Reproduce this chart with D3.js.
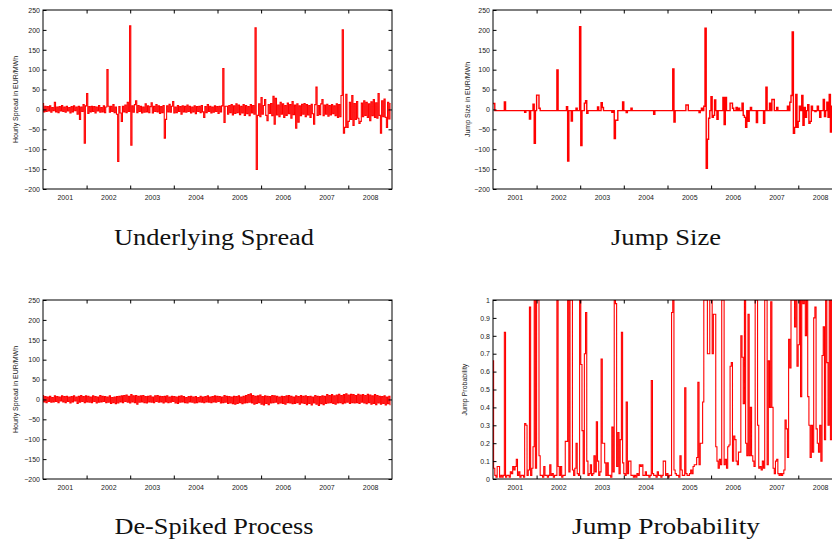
<!DOCTYPE html>
<html>
<head>
<meta charset="utf-8">
<script src="https://cdn.jsdelivr.net/npm/d3@7"></script>
<style>
body { margin: 0; background: #fff; }
.axis text { font-family: "Liberation Sans", Arial, sans-serif; font-size: 7px; fill: #222; }
.axis line { stroke: #000; }
.ylab { font-family: "Liberation Sans", Arial, sans-serif; font-size: 7px; fill: #222; }
.title { font-family: "Liberation Serif", "Times New Roman", Times, serif; font-size: 23px; fill: #111; }
</style>
</head>
<body>
<div id="chart"></div>
<script>
// sampling grid of the series (every 10 days from 1 Jan 2001)
var sampleStart = Date.UTC(2001, 0, 1),
	sampleStepDays = 10;

var yearLabels = [2001, 2002, 2003, 2004, 2005, 2006, 2007, 2008];
var yearTicks = [2002, 2003, 2004, 2005, 2006, 2007, 2008];
var spreadTicks = [-200, -150, -100, -50, 0, 50, 100, 150, 200, 250];
var probTicks = [0, 0.1, 0.2, 0.3, 0.4, 0.5, 0.6, 0.7, 0.8, 0.9, 1];

// Underlying spread, EUR/MWh
var underlyingSpread = [
	15, -6, 8, -5, 7, -4, 9, -7, 5, -3, 18, -6, 6, -8, 7, -4, 10, -5, 6, -7,
	8, -4, 5, -9, 7, -6, 9, -3, 6, -12, 8, -25, 6, -5, 12, -85, 9, 40, -10, 7,
	-6, 8, -5, 7, -9, 6, -4, 10, -7, 5, -6, 9, -8, 6, 100, 8, -7, 8, -5, 12,
	-8, 6, -12, -131, 7, -9, -30, 8, -6, 11, -8, 18, -5, 210, -90, 9, -7, 12, 22, -8,
	10, -5, 8, -9, 6, -7, 14, -6, 9, -8, 7, 17, -9, 8, -5, 12, -6, 9, -10, 7,
	-8, 10, -72, -25, 9, -6, 13, -7, 8, 20, -9, 6, -8, 10, -5, 7, -12, 9, -6, 8,
	-7, 11, -5, 8, -9, 6, -6, 9, -11, 7, -5, 8, -8, 10, -6, -20, 7, -8, 12, -5,
	8, -9, 6, -7, 9, -5, 7, -10, 8, -6, 9, 103, -33, 8, 8, -12, 10, -8, 12, -14,
	9, -10, 14, -8, 11, -13, 8, -9, 12, -15, 10, -11, 7, -16, 12, -9, 10, -12, 205, -151,
	-15, 14, -18, 30, -12, 10, 25, -15, -28, 12, -10, 15, -16, 33, -37, 28, -14, 11, -18, 18,
	-12, 14, -20, 10, -15, 16, -11, 12, -22, 20, -13, 11, -47, 14, -32, 9, -16, 13, -12, 15,
	-18, 12, -14, 10, -20, 13, -11, -37, 12, 56, -15, 10, -13, 14, 25, -16, 11, -12, 13, -17,
	10, -14, 12, -11, 9, -16, 14, -20, 12, -18, 35, 200, -60, -45, 38, -45, -30, 18, -25, 35,
	-40, 15, -25, 20, -22, -35, -30, 16, -18, 22, -15, 18, -20, 14, -28, 19, -16, 25, -20, 17,
	-22, 40, -15, -60, 22, -18, 26, -20, -45, 18, -24, 15
];

// Jump size, EUR/MWh
var jumpSize = [
	15, 15, -3, -3, -3, -3, -3, -3, -3, -3, 19, -3, -3, -3, -3, -3, -3, -3, -3, -3,
	-3, -3, -3, -3, -3, -3, -3, -7, -3, -3, -3, -24, -3, -3, 13, -85, -3, 36, 36, 3,
	-3, -3, -3, -3, -3, -3, -3, -3, -3, -3, -3, -3, -3, -3, 99, -3, -3, -3, -3, -3,
	-3, -3, 7, -130, -3, -3, -29, -3, -3, -3, 3, -3, -3, 208, -91, -3, -3, 16, 22, -10,
	-3, -3, -3, -3, -3, -3, -3, -3, 6, -3, -3, 17, 5, -3, -3, -3, -3, -3, -3, -3,
	-7, -3, -73, -27, -27, -3, -3, -3, -3, 19, -3, -3, -8, -3, -3, -3, 3, -3, -3, -3,
	-3, -3, -3, -3, -3, -3, -3, -3, -3, -3, -3, -3, -3, -3, -3, -12, -3, -3, -3, -3,
	-3, -3, -3, -3, -3, -3, -3, -3, -3, -3, -3, 102, -32, -3, -3, -3, -3, -3, -3, -3,
	-3, -3, 11, 11, -3, -3, -3, -3, -3, -3, -3, -3, -3, -8, -3, 3, -3, 8, 204, -148,
	-75, -22, -3, 32, -20, -15, 24, -3, -25, -3, -3, -3, -3, 30, -38, 30, -3, -3, -3, 16,
	16, 3, -3, -3, 5, -3, 3, -3, -3, 16, -15, -20, -45, -3, -30, -3, 5, -3, -3, -3,
	-3, -33, -3, -3, -3, -3, -3, -35, -3, 56, -3, -3, 16, -3, 25, 25, -3, -3, 5, -3,
	-3, -3, -3, -3, -3, -3, -3, 8, -3, 18, 35, 195, -60, -45, 38, -45, -30, 8, -3, 35,
	-40, 5, -20, -3, 12, -35, -30, 8, -3, -3, -5, -3, 8, -3, -20, -3, -3, 25, -18, -3,
	18, -20, 38, -57, 8, -20, 15, -10, -45, 10, -15, 5
];

// De-spiked process, EUR/MWh
var deSpiked = [
	10, -6, 7, -8, 6, -5, 8, -7, 5, -6, 9, -5, 7, -8, 6, -4, 9, -6, 7, -8,
	8, -5, 6, -9, 7, -6, 9, -4, 6, -10, 8, -7, 10, -5, 7, -8, 9, -6, 8, -7,
	6, -8, 9, -5, 7, -9, 6, -7, 10, -6, 8, -5, 7, -8, 6, -7, 9, -10, 5, -8,
	6, -11, 7, -9, 8, -6, 9, -8, 10, -5, 11, -7, 8, -9, 12, -6, 9, -8, 10, -12,
	8, -7, 9, -6, 10, -8, 7, -9, 8, -6, 9, -7, 6, -8, 9, -5, 10, -7, 8, -6,
	7, -9, 8, -6, 9, -8, 6, -7, 8, -5, 7, -9, 6, -10, 8, -7, 9, -6, 7, -8,
	5, -9, 7, -6, 8, -7, 6, -9, 7, -8, 5, -6, 8, -7, 6, -8, 7, -6, 9, -7,
	6, -8, 7, -6, 9, -7, 8, -5, 7, -9, 6, -8, 10, -7, 8, -10, 7, -9, 6, -11,
	8, -12, 7, -10, 9, -8, 6, -11, 8, -9, 10, -8, 12, -7, 14, -9, 10, -12, 8, -10,
	9, -8, 11, -12, 7, -14, 9, -10, 8, -13, 7, -9, 10, -8, 9, -7, 8, -11, 6, -9,
	8, -10, 7, -12, 9, -8, 10, -9, 8, -11, 6, -10, 9, -8, 7, -12, 10, -9, 8, -10,
	9, -13, 7, -10, 8, -14, 6, -9, 10, -12, 8, -15, 7, -11, 9, -13, 8, -10, 12, -9,
	10, -8, 12, -10, 9, -12, 11, -9, 13, -8, 10, -11, 12, -9, 14, -7, 11, -10, 13, -8,
	12, -9, 10, -8, 13, -10, 11, -7, 12, -9, 10, -11, 13, -8, 11, -12, 9, -10, 12, -13,
	10, -9, 8, -12, 7, -10, 9, -14, 6, -11, 8, -13
];

// Jump probability
var jumpProb = [
	0.66, 0.06, 0.02, 0.01, 0.07, 0.07, 0.01, 0.02, 0.01, 0.02, 0.82, 0.01, 0.02, 0.02, 0.01, 0.04, 0.03, 0.07, 0.05, 0.07,
	0.11, 0.02, 0.04, 0.01, 0.02, 0.02, 0.01, 0.31, 0.30, 0.02, 0.05, 0.96, 0.02, 0.06, 0.18, 1.0, 0.06, 1.0, 1.0, 0.13,
	0.02, 0.02, 0.01, 0.07, 0.02, 0.02, 0.01, 0.02, 0.08, 0.02, 0.03, 0.01, 0.02, 0.02, 1.0, 0.07, 0.02, 0.07, 0.01, 0.02,
	0.02, 0.21, 0.21, 1.0, 0.04, 1.0, 1.0, 0.05, 0.02, 0.06, 0.20, 0.03, 0.02, 1.0, 0.64, 0.27, 0.03, 0.70, 0.93, 0.10,
	0.02, 0.03, 0.08, 0.02, 0.03, 0.13, 0.04, 0.32, 0.10, 0.02, 0.04, 0.67, 0.20, 0.20, 0.09, 0.02, 0.09, 0.02, 0.02, 0.01,
	0.29, 0.04, 1.0, 0.98, 0.07, 0.26, 0.03, 0.22, 0.82, 0.09, 0.03, 0.02, 0.43, 0.03, 0.10, 0.10, 0.02, 0.02, 0.01, 0.02,
	0.01, 0.03, 0.02, 0.08, 0.07, 0.08, 0.02, 0.02, 0.04, 0.02, 0.02, 0.01, 0.02, 0.55, 0.03, 0.02, 0.02, 0.01, 0.04, 0.02,
	0.02, 0.01, 0.02, 0.10, 0.10, 0.02, 0.03, 0.01, 0.02, 0.02, 0.93, 1.0, 0.05, 0.03, 0.02, 0.02, 0.01, 0.13, 0.05, 0.02,
	0.02, 0.51, 0.03, 0.02, 0.02, 0.03, 0.05, 0.03, 0.07, 0.08, 0.08, 0.12, 0.54, 0.08, 0.20, 0.20, 0.43, 1.0, 1.0, 1.0,
	0.70, 0.70, 1.0, 1.0, 0.70, 0.92, 0.92, 0.18, 0.10, 0.06, 0.11, 0.08, 1.0, 1.0, 0.08, 0.11, 0.06, 0.18, 0.19, 0.63,
	0.65, 0.10, 0.24, 0.22, 0.10, 0.08, 0.15, 0.15, 0.80, 0.68, 0.42, 1.0, 0.20, 0.13, 0.92, 0.13, 0.40, 0.13, 0.10, 0.07,
	1.0, 1.0, 0.30, 0.06, 0.07, 0.05, 0.10, 0.06, 1.0, 1.0, 0.08, 0.66, 0.40, 0.99, 0.40, 0.06, 0.03, 0.10, 0.11, 0.03,
	0.02, 0.03, 0.02, 0.03, 0.05, 0.33, 0.28, 0.12, 0.78, 0.62, 1.0, 1.0, 1.0, 0.85, 1.0, 0.63, 0.75, 1.0, 0.46, 1.0,
	0.98, 1.0, 0.80, 1.0, 0.46, 0.30, 0.12, 0.30, 0.15, 0.90, 0.96, 0.28, 0.20, 0.15, 0.30, 0.10, 0.69, 0.85, 0.22, 1.0,
	0.65, 0.30, 1.0, 0.22, 1.0, 0.40, 1.0, 0.30, 1.0, 0.20, 0.60, 0.10
];

var width = 349,
	height = 179,
	tickLen = 3.5;

var svg = d3.select("#chart").append("svg")
	.attr("width", 832)
	.attr("height", 544)
	.style("display", "block");

svg.append("rect").attr("width", 832).attr("height", 544).attr("fill", "#fff");

var xScale = d3.scaleUtc()
	.domain([new Date(Date.UTC(2001, 0, 1)), new Date(Date.UTC(2009, 0, 1))])
	.range([0, width]);

function sampleDate(i) {
	return d3.utcDay.offset(new Date(sampleStart), i * sampleStepDays);
}

function panel(opts) {
	var yScale = d3.scaleLinear().domain(opts.yDomain).range([height, 0]);

	var g = svg.append("g")
		.attr("transform", "translate(" + opts.left + "," + opts.top + ")");

	g.append("defs").append("clipPath")
		.attr("id", opts.id)
		.append("rect")
		.attr("width", width)
		.attr("height", height);

	// step curve: each sample holds for its 10 days, so spikes come out as upright strokes
	var line = d3.line()
		.curve(d3.curveStep)
		.x(function(d, i) { return xScale(sampleDate(i)); })
		.y(function(d) { return yScale(d); });

	g.append("path")
		.datum(opts.values)
		.attr("clip-path", "url(#" + opts.id + ")")
		.attr("fill", "none")
		.attr("stroke", "#ff0000")
		.attr("stroke-width", opts.stroke)
		.attr("d", line);

	var tickDates = yearTicks.map(function(y) { return new Date(Date.UTC(y, 0, 1)); });
	var labelDates = yearLabels.map(function(y) { return new Date(Date.UTC(y, 6, 2)); });

	// inward tick marks on all four sides
	g.append("g").attr("class", "axis")
		.attr("transform", "translate(0," + height + ")")
		.call(d3.axisBottom(xScale).tickValues(tickDates).tickSize(-tickLen).tickFormat(""));
	g.append("g").attr("class", "axis")
		.call(d3.axisTop(xScale).tickValues(tickDates).tickSize(-tickLen).tickFormat(""));
	g.append("g").attr("class", "axis")
		.call(d3.axisLeft(yScale).tickValues(opts.ticks).tickSize(-tickLen).tickFormat(""));
	g.append("g").attr("class", "axis")
		.attr("transform", "translate(" + width + ",0)")
		.call(d3.axisRight(yScale).tickValues(opts.ticks).tickSize(-tickLen).tickFormat(""));

	// year labels between the year ticks
	g.append("g").attr("class", "axis")
		.attr("transform", "translate(0," + height + ")")
		.call(d3.axisBottom(xScale).tickValues(labelDates).tickSize(0).tickPadding(6)
			.tickFormat(d3.utcFormat("%Y")));

	g.append("g").attr("class", "axis")
		.call(d3.axisLeft(yScale).tickValues(opts.ticks).tickSize(0).tickPadding(3)
			.tickFormat(opts.format));

	g.selectAll(".axis .domain").remove();

	g.append("rect")
		.attr("width", width)
		.attr("height", height)
		.attr("fill", "none")
		.attr("stroke", "#000")
		.attr("stroke-width", 1);

	g.append("text")
		.attr("class", "ylab")
		.attr("transform", "translate(" + opts.labelX + "," + (height / 2) + ") rotate(-90)")
		.attr("text-anchor", "middle")
		.text(opts.label);

	g.append("text")
		.attr("class", "title")
		.attr("x", opts.titleX)
		.attr("y", opts.titleY)
		.attr("text-anchor", "middle")
		.attr("textLength", opts.titleW)
		.attr("lengthAdjust", "spacingAndGlyphs")
		.text(opts.title);
}

var spreadFormat = d3.format("d");
var probFormat = function(d) { return d3.format("")(d); };

panel({id: "c1", left: 43, top: 10, values: underlyingSpread, yDomain: [-200, 250], ticks: spreadTicks,
	format: spreadFormat, label: "Hourly Spread in EUR/MWh", labelX: -25, stroke: 1.1,
	title: "Underlying Spread", titleX: 171, titleY: 235, titleW: 200});
panel({id: "c2", left: 493, top: 10, values: jumpSize, yDomain: [-200, 250], ticks: spreadTicks,
	format: spreadFormat, label: "Jump Size in EUR/MWh", labelX: -23, stroke: 1.4,
	title: "Jump Size", titleX: 173, titleY: 235, titleW: 110});
panel({id: "c3", left: 43, top: 300, values: deSpiked, yDomain: [-200, 250], ticks: spreadTicks,
	format: spreadFormat, label: "Hourly Spread in EUR/MWh", labelX: -25, stroke: 1.1,
	title: "De-Spiked Process", titleX: 171, titleY: 234, titleW: 199});
panel({id: "c4", left: 493, top: 300, values: jumpProb, yDomain: [0, 1], ticks: probTicks,
	format: probFormat, label: "Jump Probability", labelX: -26, stroke: 1.1,
	title: "Jump Probability", titleX: 173, titleY: 234, titleW: 188});
</script>
</body>
</html>
